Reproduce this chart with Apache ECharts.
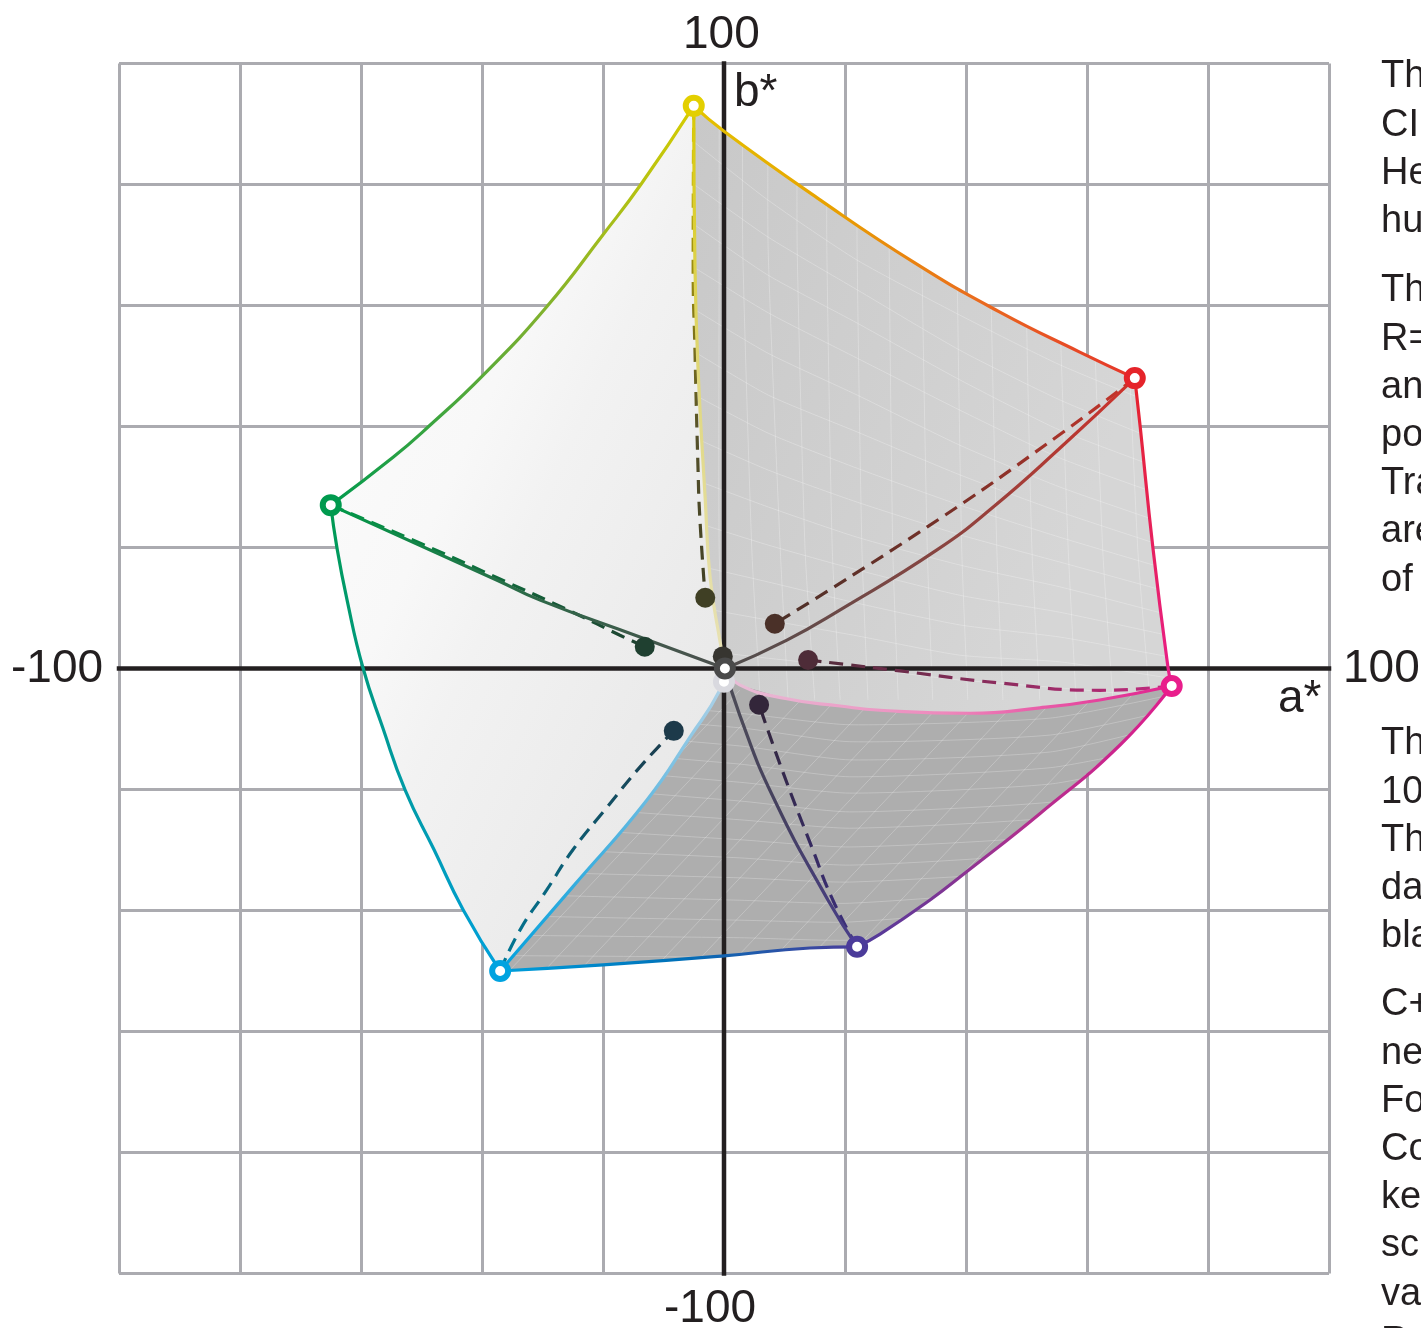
<!DOCTYPE html>
<html lang="en">
<head>
    <meta charset="UTF-8">
    <title>CIELAB gamut</title>
    <script src="https://cdn.jsdelivr.net/npm/echarts@6/dist/echarts.min.js"></script>
    <style>
        html, body {
            margin: 0;
            height: 100%;
            background: #fff;
            overflow: hidden;
        }
    </style>
</head>
<body>
<div id="main" style="width: 1421px;height: 1328px"></div>
<script>
    // edges of the gamut in a*, b* units
    var yellowRed = [[-5, 93], [0, 88.8], [15.4, 77.8], [31.6, 67], [45.6, 58.9], [58.8, 52.3], [67.9, 48]];
    var redMagenta = [[67.9, 48], [68.8, 39.9], [70.9, 19.9], [73.4, 0.1], [74, -2.9]];
    var magentaViolet = [[74, -2.9], [65.5, -12.6], [52.2, -24], [40.1, -33.6], [34, -38.3], [25.8, -43.9], [22, -46]];
    var violetCyan = [[22, -46], [14.2, -46.2], [0, -47.5], [-20, -49], [-37, -50]];
    var cyanGreen = [[-37, -50], [-43.1, -39.9], [-47.9, -30], [-52.7, -20.1], [-56.4, -9.8], [-59.7, 0.2], [-62.3, 11.3], [-64, 20.1], [-65, 27]];
    var greenYellow = [[-65, 27], [-54.7, 34.9], [-48.6, 40.2], [-39.8, 48.5], [-29.3, 59.8], [-20, 71.7], [-13.6, 80.2], [-5, 93]];

    // from each corner to white
    var yellowWhite = [[-5, 93], [-4.8, 66.4], [-4.3, 49.8], [-3.1, 27.9], [-2.3, 15.1], [-0.7, 4.7], [0.2, 0]];
    var redWhite = [[67.9, 48], [55.5, 36.4], [44.5, 26.7], [35.2, 19.6], [19.2, 9.7], [10.4, 4.7], [0.2, 0]];
    var magentaWhite = [[74, -2.9], [62.1, -5.2], [52.2, -6.5], [40.7, -7.4], [25.8, -6.9], [19.2, -6.2], [10.4, -5], [2.6, -2.7], [0.2, 0]];
    var violetWhite = [[22, -46], [17.2, -38.3], [8.1, -21.2], [2.6, -7.7], [0.2, 0]];
    var cyanWhite = [[-37, -50], [-25, -36.1], [-12.7, -21.7], [-5.6, -11.3], [-0.7, -3.6], [0.2, 0]];
    var greenWhite = [[-65, 27], [-37.5, 14.6], [-30.4, 11.3], [-13.9, 5.2], [0.2, 0]];

    // from each corner to its dark point (dashed)
    var yellowDark = [[-5, 93], [-5.1, 66.4], [-4.8, 52.6], [-4.3, 33.3], [-4, 25], [-3.1, 11.7]];
    var redDark = [[67.9, 48], [55, 38.3], [33.6, 23.4], [8.4, 7.4]];
    var magentaDark = [[74, -2.9], [62.1, -3.6], [45.6, -2.4], [29.1, -0.4], [13.9, 1.4]];
    var violetDark = [[22, -46], [18, -38.3], [14.5, -29.5], [9.8, -17.3], [5.8, -6]];
    var cyanDark = [[-37, -50], [-33.7, -43.2], [-29.3, -36.6], [-25, -30], [-19.3, -22.9], [-13.9, -16.3], [-8.3, -10.3]];
    var greenDark = [[-65, 27], [-50.2, 20.7], [-37.5, 15], [-25, 9.3], [-17.2, 5.5], [-13.1, 3.6]];

    var cornerPoints = [[-5, 93], [67.9, 48], [74, -2.9], [22, -46], [-37, -50], [-65, 27]];
    var cornerColors = ['#e3cf00', '#e5242a', '#e91e8c', '#4b3b9a', '#00a3e0', '#009a4e'];
    var darkPoints = [[-3.1, 11.7], [8.4, 7.4], [13.9, 1.4], [5.8, -6], [-8.3, -10.3], [-13.1, 3.6], [-0.2, 2]];
    var darkColors = ['#3f3f24', '#4a3028', '#4e2c38', '#33263a', '#1d3a4a', '#1f4030', '#373530'];

    // mesh on the grey faces: upper face runs, a* at three heights
    var meshRunB = [94, 69.2, 19.6, -5.2];
    var meshRunTop = [-0.8, 3.1, 7.3, 12.1, 17, 22, 27.3, 32.7, 38.5, 44, 49.8, 55.2, 60.8, 66.3];
    var meshRunMid = [-0.8, 4.6, 9.3, 13.4, 17.9, 22.8, 27.9, 33.6, 39.3, 45.1, 50.9, 56.9, 62.6, 68.4];
    var meshRunLow = [0.2, 6, 10.6, 15, 19.2, 23.8, 28.8, 34.5, 40.3, 46.1, 52.2, 58.2, 64.3, 70.4];
    // upper face cross lines, b* at fixed a*
    var meshCrossA = [-4.8, 7.3, 22, 39, 55.5, 73.7];
    var meshCrossB = [
        [86.9, 77.4, 67.5, 58.4, 50.2, 42.7],
        [79.9, 71.3, 62.6, 52.6, 44.4, 36.9],
        [73.3, 65, 57.1, 47.7, 39.4, 32.5],
        [66.2, 58.8, 51.3, 42.7, 34.8, 28.2],
        [59.3, 52.1, 45.2, 36.9, 30, 23.7],
        [52.3, 45.2, 39.1, 32, 25.9, 19.9],
        [45.2, 38.9, 33.1, 27, 21.7, 16.3],
        [38.1, 32.8, 27.5, 22.1, 17.6, 12.6],
        [31.2, 26.7, 21.7, 17.1, 13.5, 8.8],
        [24.2, 20.4, 16.3, 12.1, 9.3, 5.4],
        [17.1, 14.3, 10.8, 7.2, 5.2, 1.9],
        [10.2, 8, 5.4, 2.2, 1.1, -1.6],
        [3.1, 1.7, 0.1, -1.9, -3.2, -4.9]
    ];
    // lower face rows, b* at fixed a*
    var meshRowA = [-45, 2.6, 20.8, 53.9, 73.7];
    var meshRowB = [
        [-3.6, -7.4, -9.3, -8.2, -4.4],
        [-6, -9.8, -12.1, -11, -6.9],
        [-8.8, -12.8, -15.1, -13.8, -9.3],
        [-11.8, -15.8, -17.9, -16.4, -12.6],
        [-14.8, -18.8, -20.6, -19.1, -15.1],
        [-18.1, -21.9, -23.7, -22.1, -18.4],
        [-21.7, -25, -26.4, -24.7, -20.9],
        [-25.4, -28.3, -29.5, -27.7, -23.4],
        [-29.2, -31.3, -32.5, -30.5, -26.7],
        [-33.3, -34.6, -35.3, -33.3, -30],
        [-37.1, -38.3, -38.8, -36.3, -33.3],
        [-40.7, -41.6, -41.9, -39.1, -36.6],
        [-44, -44.5, -44.9, -42.4, -39.9],
        [-47.4, -47.7, -47.8, -45.7, -43.2]
    ];
    // lower face diagonals, a* at b* -50.7 and at b* -3.6
    var meshDiagB = [-50.7, -3.6];
    var meshDiagLow = [-42, -36.2, -30.4, -24.6, -18.5, -12.6, -6.6, -0.7, 5.5, 11.4, 17.5, 23.6, 29.6, 35.7, 41.8, 47.8];
    var meshDiagHigh = [2.6, 8.4, 14.2, 20, 26.1, 32, 38, 43.9, 50.1, 56, 62.1, 68.2, 74.2, 80.3, 86.4, 92.4];

    var tickLabels = ['100', '-100', '100', '-100'];
    var bodyGroups = [
        ['Th', 'CI', 'He', 'hu'],
        ['Th', 'R=', 'an', 'po', 'Tra', 'are', 'of'],
        ['Th', '10', 'Th', 'da', 'bla'],
        ['C+', 'ne', 'Fo', 'Co', 'ke', 'sc', 'va', 'R']
    ];
    var bodyTops = [77, 291, 744, 1005];

    var textColor = '#231f20';

    function grad(points, stops) {
        var a = points[0], b = points[points.length - 1];
        var list = [];
        for (var i = 0; i < stops.length; i++) {
            list.push({offset: i / (stops.length - 1), color: stops[i]});
        }
        return new echarts.graphic.LinearGradient(
            a[0] <= b[0] ? 0 : 1, a[1] >= b[1] ? 0 : 1,
            a[0] <= b[0] ? 1 : 0, a[1] >= b[1] ? 1 : 0, list);
    }

    function edge(points, stops, dashed) {
        return {
            type: 'line',
            data: points,
            smooth: 0.5,
            symbol: 'none',
            silent: true,
            clip: false,
            z: dashed ? 6 : 7,
            lineStyle: {
                width: 3.2,
                color: grad(points, stops),
                type: dashed ? [14, 8] : 'solid',
                opacity: 1
            }
        };
    }

    function surface(points, fill) {
        return {
            type: 'custom',
            silent: true,
            clip: false,
            z: 3,
            data: [0],
            renderItem: function (params, api) {
                return {
                    type: 'polygon',
                    shape: {points: points.map(function (p) { return api.coord(p); })},
                    style: {fill: fill}
                };
            }
        };
    }

    // faint mesh lines, cut to the outline of their face
    function mesh(lines, outline, opacity) {
        return {
            type: 'custom',
            silent: true,
            clip: false,
            z: 4,
            data: [0],
            renderItem: function (params, api) {
                return {
                    type: 'group',
                    clipPath: {
                        type: 'polygon',
                        shape: {points: outline.map(function (p) { return api.coord(p); })}
                    },
                    children: lines.map(function (line) {
                        return {
                            type: 'polyline',
                            shape: {points: line.map(function (p) { return api.coord(p); }), smooth: 0.2},
                            style: {stroke: '#fff', fill: null, lineWidth: 1, opacity: opacity}
                        };
                    })
                };
            }
        };
    }

    function axisRule(points) {
        return {
            type: 'line',
            data: points,
            symbol: 'none',
            silent: true,
            clip: false,
            z: 5,
            lineStyle: {width: 4.5, color: textColor, cap: 'square'}
        };
    }

    function rings(points, colors, z) {
        return {
            type: 'scatter',
            silent: true,
            clip: false,
            z: z,
            symbolSize: 16,
            data: points.map(function (p, i) {
                return {
                    value: p,
                    itemStyle: {color: '#fff', borderColor: colors[i], borderWidth: 6, opacity: 1}
                };
            })
        };
    }

    function dots(points, colors, z) {
        return {
            type: 'scatter',
            silent: true,
            clip: false,
            z: z,
            symbolSize: 20,
            data: points.map(function (p, i) {
                return {value: p, itemStyle: {color: colors[i], opacity: 1}};
            })
        };
    }

    var lightFill = new echarts.graphic.LinearGradient(0, 0, 1.65, 0.35, [
        {offset: 0, color: '#fdfdfd'},
        {offset: 0.37, color: '#f8f8f8'},
        {offset: 0.5, color: '#f2f2f2'},
        {offset: 0.75, color: '#ebebeb'},
        {offset: 1, color: '#e6e6e6'}
    ]);
    var midFill = new echarts.graphic.LinearGradient(0, 0, 1, 0.3, [
        {offset: 0, color: '#c8c8c8'},
        {offset: 1, color: '#d6d6d6'}
    ]);

    var lightFace = greenYellow.concat(yellowWhite, cyanWhite.slice().reverse(), cyanGreen.slice().reverse());
    var midFace = yellowRed.concat(redMagenta, magentaWhite, yellowWhite.slice().reverse());
    var darkFace = magentaViolet.concat(violetCyan, cyanWhite, magentaWhite.slice().reverse());

    var midLines = [];
    var darkLines = [];
    meshRunTop.forEach(function (a, i) {
        midLines.push([[a, meshRunB[0]], [a, meshRunB[1]], [meshRunMid[i], meshRunB[2]], [meshRunLow[i], meshRunB[3]]]);
    });
    meshCrossB.forEach(function (row) {
        midLines.push(row.map(function (b, i) { return [meshCrossA[i], b]; }));
    });
    meshRowB.forEach(function (row) {
        darkLines.push(row.map(function (b, i) { return [meshRowA[i], b]; }));
    });
    meshDiagLow.forEach(function (a, i) {
        darkLines.push([[a, meshDiagB[0]], [meshDiagHigh[i], meshDiagB[1]]]);
    });

    var series = [
        surface(lightFace, lightFill),
        surface(midFace, midFill),
        surface(darkFace, '#aeaeae'),
        mesh(midLines, midFace, 0.26),
        mesh(darkLines, darkFace, 0.24),
        axisRule([[-100, 0], [100, 0]]),
        axisRule([[0, -100], [0, 100]]),
        edge(yellowRed, ['#e3c400', '#e8a000', '#ea6a1e', '#e5332a']),
        edge(redMagenta, ['#e5242a', '#e91e8c']),
        edge(magentaViolet, ['#e01e8c', '#b0308f', '#4b3b9a']),
        edge(violetCyan, ['#4b3b9a', '#0070b8', '#00a0dc']),
        edge(cyanGreen, ['#00a0dc', '#009a9a', '#009a4e']),
        edge(greenYellow, ['#009a4e', '#7ab030', '#d8cc00']),
        edge(yellowWhite, ['#d8c800', '#e0d880', '#e8e2b8']),
        edge(redWhite, ['#d0322a', '#8a4440', '#4e4e4e']),
        edge(magentaWhite, ['#e01e8c', '#ee88bc', '#e8c0d8']),
        edge(violetWhite, ['#483d8b', '#45405f', '#4e4e55']),
        edge(cyanWhite, ['#00a0dc', '#55b5e0', '#b8d5e8']),
        edge(greenWhite, ['#009a48', '#2c6a48', '#4e4e4e']),
        edge(yellowDark, ['#d8c800', '#9a8c10', '#55502a', '#3f3f24'], true),
        edge(redDark, ['#c9352b', '#7a3028', '#4a3028'], true),
        edge(magentaDark, ['#c32a80', '#8a2c5c', '#4e2c38'], true),
        edge(violetDark, ['#3d2f80', '#352a5a', '#33263a'], true),
        edge(cyanDark, ['#007a98', '#0e5a70', '#1d3a4a'], true),
        edge(greenDark, ['#009a48', '#106a3c', '#1f4030'], true),
        rings([[0, -2.2]], ['#d9d9df'], 8),
        dots(darkPoints, darkColors, 9),
        rings(cornerPoints, cornerColors, 10),
        rings([[0.15, 0]], ['#4a4a4a'], 10)
    ];

    // tick labels and axis names sit off the ticks in the original
    var graphics = [];

    function addText(str, x, y, size) {
        graphics.push({
            type: 'text',
            x: x,
            y: y,
            silent: true,
            style: {
                text: str,
                fill: textColor,
                font: size + 'px "Liberation Sans", sans-serif',
                textVerticalAlign: 'middle'
            }
        });
    }

    addText(tickLabels[0], 683, 35.5, 46);
    addText(tickLabels[1], 11, 669.5, 46);
    addText(tickLabels[2], 1343, 669.5, 46);
    addText(tickLabels[3], 664, 1309, 46);
    addText('b*', 734, 93, 46);
    addText('a*', 1278, 699, 46);

    for (var g = 0; g < bodyGroups.length; g++) {
        for (var l = 0; l < bodyGroups[g].length; l++) {
            addText(bodyGroups[g][l], 1381, bodyTops[g] + l * 48.2, 38);
        }
    }

    var myChart = echarts.init(document.getElementById('main'));
    myChart.setOption({
        animation: false,
        grid: {left: 119, top: 63.5, width: 1210, height: 1210},
        xAxis: {
            type: 'value',
            min: -100,
            max: 100,
            interval: 20,
            axisLine: {show: false},
            axisTick: {show: false},
            axisLabel: {show: false},
            splitLine: {show: true, lineStyle: {color: '#ababb0', width: 3}}
        },
        yAxis: {
            type: 'value',
            min: -100,
            max: 100,
            interval: 20,
            axisLine: {show: false},
            axisTick: {show: false},
            axisLabel: {show: false},
            splitLine: {show: true, lineStyle: {color: '#ababb0', width: 3}}
        },
        graphic: graphics,
        series: series
    });
</script>
</body>
</html>
